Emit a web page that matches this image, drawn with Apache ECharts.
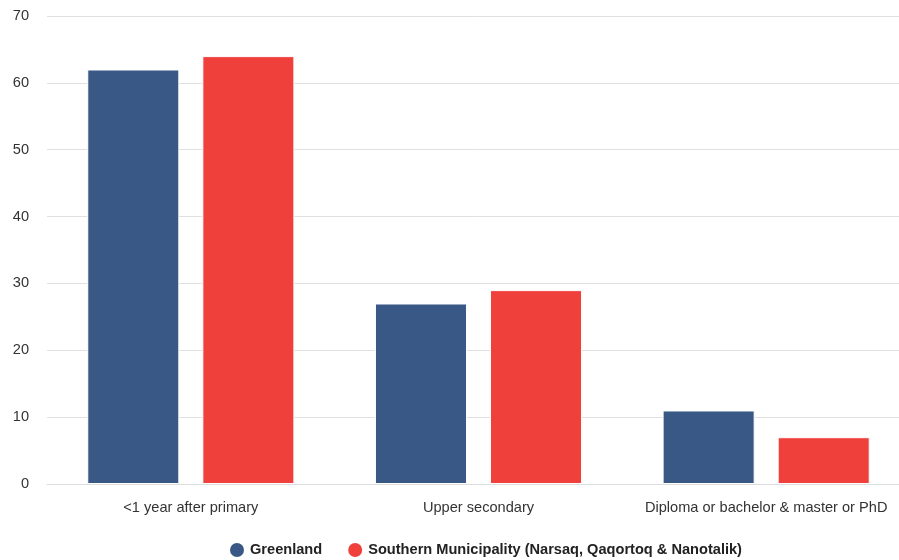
<!DOCTYPE html>
<html>
<head>
<meta charset="utf-8">
<script src="https://cdn.jsdelivr.net/npm/echarts@6/dist/echarts.min.js"></script>
<style>html,body{margin:0;padding:0;background:#fff}#c{width:899px;height:560px}</style>
</head>
<body>
<div id="c"></div>
<script>
const categories = ['<1 year after primary', 'Upper secondary', 'Diploma or bachelor & master or PhD'];
const greenland = [62, 27, 11];
const southern = [64, 29, 7];
const seriesNames = ['Greenland', 'Southern Municipality (Narsaq, Qaqortoq & Nanotalik)'];

const chart = echarts.init(document.getElementById('c'), null, {renderer: 'canvas'});
chart.setOption({
  animation: false,
  textStyle: {fontFamily: 'Liberation Sans, Arial, sans-serif'},
  grid: {left: 47, width: 863, top: 16, bottom: 76, containLabel: false, outerBoundsMode: 'none'},
  legend: {
    top: 536, left: 223, icon: 'circle', itemWidth: 16, itemHeight: 16, itemGap: 24,
    textStyle: {fontWeight: 'bold', fontSize: 14.6, color: '#222', fontFamily: 'Liberation Sans, Arial, sans-serif'},
    data: seriesNames
  },
  xAxis: {
    type: 'category', data: categories, offset: 3,
    axisLine: {lineStyle: {color: '#ddd', width: 1}},
    axisTick: {show: false},
    axisLabel: {fontSize: 14.6, color: '#333', margin: 13, interval: 0, hideOverlap: false}
  },
  yAxis: {
    type: 'value', min: 0, max: 70, interval: 10,
    axisLabel: {fontSize: 14.6, color: '#333', margin: 18},
    splitLine: {lineStyle: {color: '#e0e0e0'}},
    axisLine: {show: false}, axisTick: {show: false}
  },
  series: [
    {name: seriesNames[0], type: 'bar', data: greenland, barWidth: '32%', barGap: '25%',
     itemStyle: {color: '#395886', borderColor: '#fff', borderWidth: 1}},
    {name: seriesNames[1], type: 'bar', data: southern, barWidth: '32%',
     itemStyle: {color: '#ef403c', borderColor: '#fff', borderWidth: 1}}
  ]
});
</script>
</body>
</html>
